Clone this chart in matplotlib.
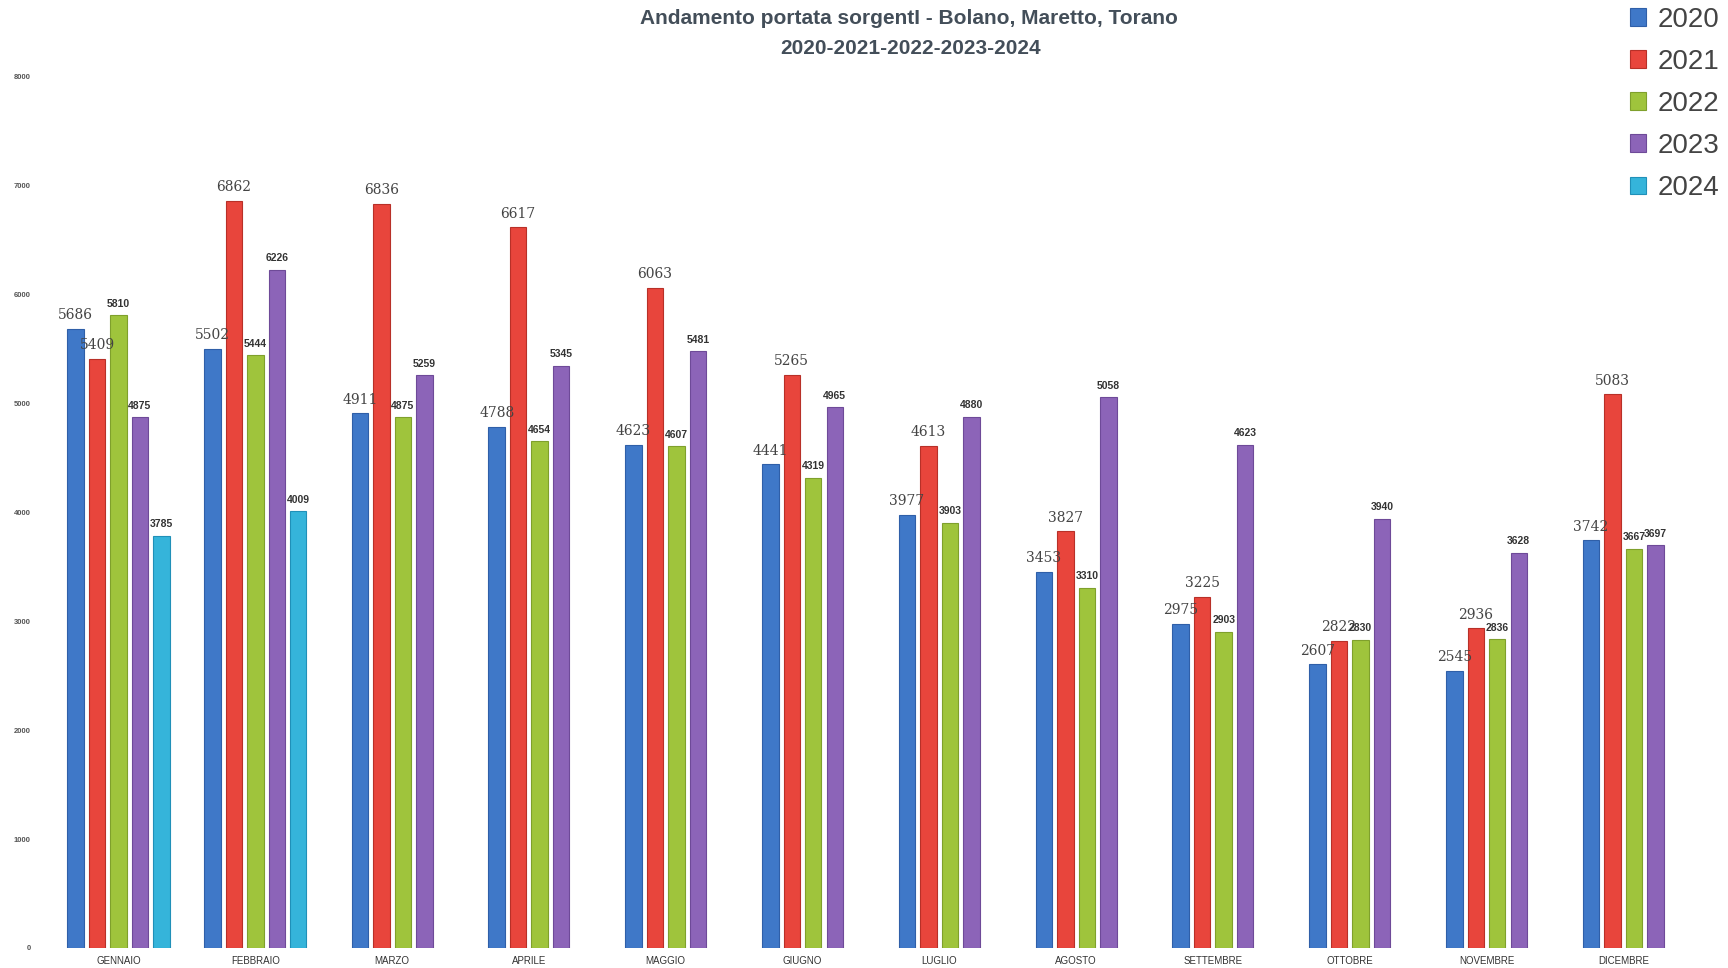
import numpy as np
import matplotlib.pyplot as plt

months = ['GENNAIO', 'FEBBRAIO', 'MARZO', 'APRILE', 'MAGGIO', 'GIUGNO',
          'LUGLIO', 'AGOSTO', 'SETTEMBRE', 'OTTOBRE', 'NOVEMBRE', 'DICEMBRE']
years = ['2020', '2021', '2022', '2023', '2024']

v2020 = [5686, 5502, 4911, 4788, 4623, 4441, 3977, 3453, 2975, 2607, 2545, 3742]
v2021 = [5409, 6862, 6836, 6617, 6063, 5265, 4613, 3827, 3225, 2822, 2936, 5083]
v2022 = [5810, 5444, 4875, 4654, 4607, 4319, 3903, 3310, 2903, 2830, 2836, 3667]
v2023 = [4875, 6226, 5259, 5345, 5481, 4965, 4880, 5058, 4623, 3940, 3628, 3697]
v2024 = [3785, 4009]

series = [v2020, v2021, v2022, v2023, v2024]
colors = ['#3f78c8', '#e8453c', '#9fc43c', '#8c64b8', '#35b4da']
edges = ['#2f5fa8', '#b83028', '#7fa02c', '#6e4a98', '#2090b8']

plt.rcParams['font.family'] = ['Liberation Sans', 'DejaVu Sans']

fig = plt.figure(figsize=(17.28, 9.68), dpi=100)
ax = fig.add_axes([0.029, 0.0207, 0.950, 0.90])

width = 0.12
step = 0.157
for i in range(len(months)):
    n = sum(1 for s in series if i < len(s))
    offsets = (np.arange(n) - (n - 1) / 2) * step
    for k in range(n):
        val = series[k][i]
        ax.bar(i + offsets[k], val, width, color=colors[k], edgecolor=edges[k],
               linewidth=0.8, label=years[k] if i == 0 else None)
        if k < 2:
            ax.text(i + offsets[k], val + 60, str(val), ha='center', va='bottom',
                    fontsize=10, family='DejaVu Serif', color='#444444')
        else:
            ax.text(i + offsets[k], val + 60, str(val), ha='center', va='bottom',
                    fontsize=7.5, fontweight='bold', color='#333333')

ax.set_xlim(-0.5, len(months) - 0.5)
ax.set_ylim(0, 8000)
ax.set_yticks(range(0, 8001, 1000))
ax.set_yticklabels([str(t) for t in range(0, 8001, 1000)], fontsize=5.5,
                   fontweight='bold', color='#555555')
ax.set_xticks(range(len(months)))
ax.set_xticklabels(months, fontsize=7, color='#333333')
ax.tick_params(length=0, pad=6)
ax.tick_params(axis='y', pad=14)
for s in ax.spines.values():
    s.set_visible(False)

fig.text(0.526, 0.981, 'Andamento portata sorgentI - Bolano, Maretto, Torano',
         ha='center', va='center', fontsize=15, fontweight='bold', color='#434e59')
fig.text(0.527, 0.950, '2020-2021-2022-2023-2024',
         ha='center', va='center', fontsize=15, fontweight='bold', color='#434e59')

fig.legend(loc='upper left', bbox_to_anchor=(0.943, 0.993), frameon=False,
           fontsize=20, handlelength=0.6, handleheight=0.6, handletextpad=0.4,
           labelspacing=0.58, labelcolor='#444444', borderpad=0, borderaxespad=0)

fig.savefig('out.png', dpi=100)
plt.close(fig)
